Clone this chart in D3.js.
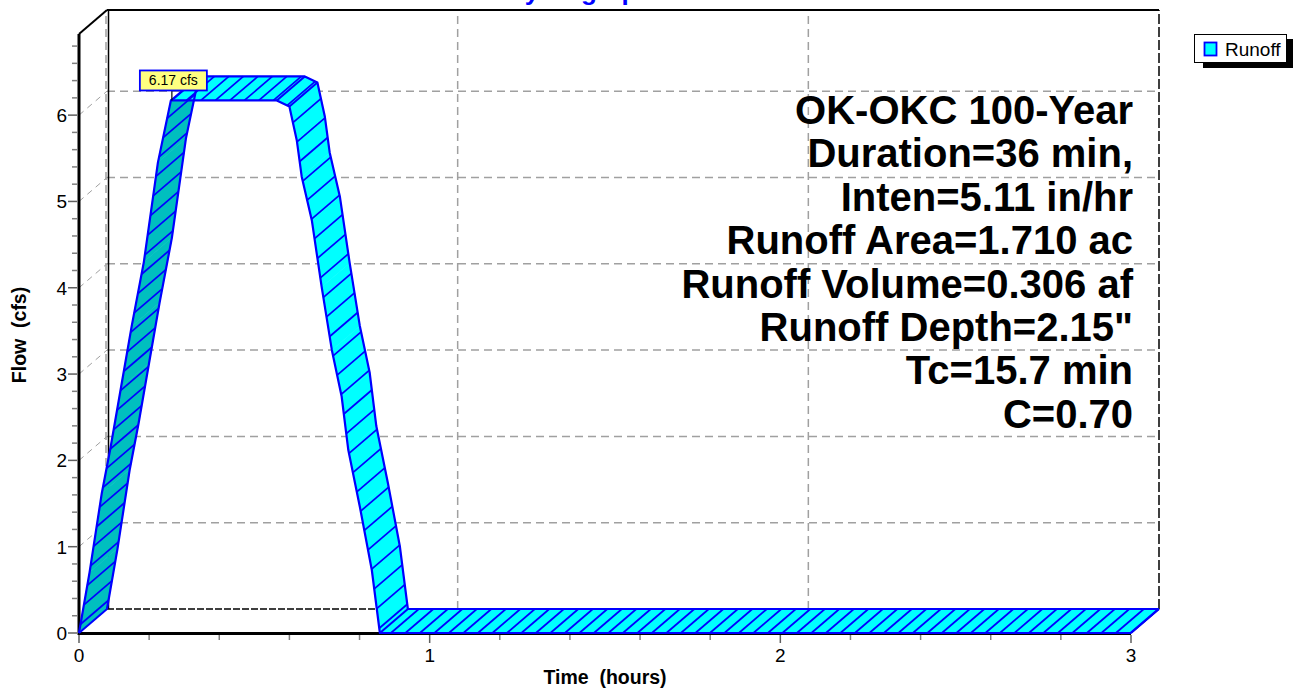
<!DOCTYPE html>
<html>
<head>
<meta charset="utf-8">
<script src="https://cdn.jsdelivr.net/npm/d3@7"></script>
<style>
  body { margin: 0; background: #ffffff; }
  svg { display: block; }
</style>
</head>
<body>
<svg id="chart" width="1294" height="689"></svg>
<script>
// Hydrograph series: time (hours) and flow (cfs)
const timeHours = [0, 0.03, 0.065, 0.09, 0.12, 0.15, 0.185, 0.225, 0.262, 0.564, 0.600, 0.621, 0.635, 0.664, 0.692, 0.721, 0.749, 0.768, 0.801, 0.835, 0.858, 3.0];
const flowCfs   = [0, 0.70, 1.62, 2.15, 2.85, 3.55, 4.30, 5.45, 6.17, 6.17, 6.10, 5.71, 5.29, 4.78, 4.01, 3.28, 2.74, 2.12, 1.46, 0.73, 0, 0];

const xTicks = [0, 1, 2, 3];
const yTicks = [0, 1, 2, 3, 4, 5, 6];
const peakFlow = 6.17;
const peakLabel = "6.17 cfs";
const seriesName = "Runoff";
const chartTitle = "Hydrograph";
const xTitle = "Time  (hours)";
const yTitle = "Flow  (cfs)";
const summaryLines = [
  "OK-OKC 100-Year",
  "Duration=36 min,",
  "Inten=5.11 in/hr",
  "Runoff Area=1.710 ac",
  "Runoff Volume=0.306 af",
  "Runoff Depth=2.15\"",
  "Tc=15.7 min",
  "C=0.70"
];

const FONT = "'Liberation Sans', Arial, sans-serif";
const BLUE = "#0000ff";
const CYAN = "#00ffff";
const TEAL = "#00bfbf";
const GRID = "#a0a0a0";

// 3D depth of the plot box
const dx = 28, dy = -24;
const xMax = 3, yMax = 6.94;

const x = d3.scaleLinear().domain([0, xMax]).range([79, 1131]);
const y = d3.scaleLinear().domain([0, yMax]).range([633, 34]);
const bx = v => x(v) + dx;
const by = v => y(v) + dy;

const svg = d3.select("#chart");

// ---- back wall grid ----
const grid = svg.append("g");
yTicks.filter(v => v > 0).forEach(v => {
  grid.append("line")
    .attr("x1", bx(0)).attr("x2", bx(xMax))
    .attr("y1", by(v)).attr("y2", by(v))
    .attr("stroke", GRID).attr("stroke-width", 1.5).attr("stroke-dasharray", "8,5");
  grid.append("line")
    .attr("x1", x(0)).attr("x2", bx(0))
    .attr("y1", y(v)).attr("y2", by(v))
    .attr("stroke", GRID).attr("stroke-width", 1).attr("stroke-dasharray", "6,5");
});
xTicks.filter(v => v > 0 && v < xMax).forEach(v => {
  grid.append("line")
    .attr("x1", bx(v)).attr("x2", bx(v))
    .attr("y1", by(0)).attr("y2", by(yMax))
    .attr("stroke", GRID).attr("stroke-width", 1.5).attr("stroke-dasharray", "8,5");
});
// left back edge (grey dashed + solid black)
grid.append("line")
  .attr("x1", bx(0) - 1).attr("x2", bx(0) - 1)
  .attr("y1", by(0)).attr("y2", by(yMax))
  .attr("stroke", GRID).attr("stroke-width", 1.5).attr("stroke-dasharray", "8,5");
grid.append("line")
  .attr("x1", bx(0) + 1.5).attr("x2", bx(0) + 1.5)
  .attr("y1", by(0)).attr("y2", by(yMax))
  .attr("stroke", "#000").attr("stroke-width", 1.5);
// top edge of back wall
grid.append("line")
  .attr("x1", bx(0)).attr("x2", bx(xMax))
  .attr("y1", by(yMax)).attr("y2", by(yMax))
  .attr("stroke", "#000").attr("stroke-width", 2);
// right edge of back wall
grid.append("line")
  .attr("x1", bx(xMax)).attr("x2", bx(xMax))
  .attr("y1", by(0)).attr("y2", by(yMax))
  .attr("stroke", "#000").attr("stroke-width", 1.5).attr("stroke-dasharray", "10,3");
// bottom edge of back wall
grid.append("line")
  .attr("x1", bx(0)).attr("x2", bx(xMax))
  .attr("y1", by(0)).attr("y2", by(0))
  .attr("stroke", "#000").attr("stroke-width", 1.5).attr("stroke-dasharray", "7,2");
// top edge of left wall
grid.append("line")
  .attr("x1", x(0)).attr("x2", bx(0))
  .attr("y1", y(yMax)).attr("y2", by(yMax))
  .attr("stroke", "#000").attr("stroke-width", 2);
// floor right edge
grid.append("line")
  .attr("x1", x(xMax)).attr("x2", bx(xMax))
  .attr("y1", y(0)).attr("y2", by(0))
  .attr("stroke", "#000").attr("stroke-width", 1.5);

// ---- summary text ----
const summary = svg.append("g");
summaryLines.forEach((s, i) => {
  summary.append("text")
    .attr("x", 1133).attr("y", 124 + i * 43.4)
    .attr("text-anchor", "end")
    .attr("font-family", FONT).attr("font-weight", "bold").attr("font-size", 40)
    .attr("fill", "#000")
    .text(s);
});

// ---- axes ----
const axes = svg.append("g");
axes.append("line")
  .attr("x1", x(0)).attr("x2", x(xMax)).attr("y1", y(0) + 0.5).attr("y2", y(0) + 0.5)
  .attr("stroke", "#000").attr("stroke-width", 3);
axes.append("line")
  .attr("x1", x(0)).attr("x2", x(0)).attr("y1", y(0) + 2).attr("y2", y(yMax))
  .attr("stroke", "#000").attr("stroke-width", 3);

const yMinor = d3.range(0, yMax, 0.2).filter(v => Math.abs(v - Math.round(v)) > 1e-6);
yMinor.forEach(v => {
  axes.append("line").attr("x1", x(0) - 7).attr("x2", x(0) - 2)
    .attr("y1", y(v)).attr("y2", y(v)).attr("stroke", "#808080").attr("stroke-width", 1.5);
});
yTicks.forEach(v => {
  axes.append("line").attr("x1", x(0) - 11).attr("x2", x(0) - 2)
    .attr("y1", y(v)).attr("y2", y(v)).attr("stroke", "#606060").attr("stroke-width", 1.5);
  axes.append("text").attr("x", x(0) - 12).attr("y", y(v) + 7)
    .attr("text-anchor", "end").attr("font-family", FONT).attr("font-size", 19)
    .text(v);
});
const xMinor = d3.range(0, xMax, 0.2).filter(v => Math.abs(v - Math.round(v)) > 1e-6);
xMinor.forEach(v => {
  axes.append("line").attr("x1", x(v)).attr("x2", x(v))
    .attr("y1", y(0) + 2).attr("y2", y(0) + 7).attr("stroke", "#808080").attr("stroke-width", 1.5);
});
xTicks.forEach(v => {
  axes.append("line").attr("x1", x(v)).attr("x2", x(v))
    .attr("y1", y(0) + 2).attr("y2", y(0) + 10).attr("stroke", "#606060").attr("stroke-width", 1.5);
  axes.append("text").attr("x", x(v)).attr("y", 662)
    .attr("text-anchor", "middle").attr("font-family", FONT).attr("font-size", 19)
    .text(v);
});

axes.append("text")
  .attr("x", 605).attr("y", 684)
  .attr("text-anchor", "middle").attr("font-family", FONT)
  .attr("font-weight", "bold").attr("font-size", 19.5)
  .style("white-space", "pre")
  .text(xTitle);
axes.append("text")
  .attr("transform", "translate(26,335) rotate(-90)")
  .attr("text-anchor", "middle").attr("font-family", FONT)
  .attr("font-weight", "bold").attr("font-size", 19.5)
  .style("white-space", "pre")
  .text(yTitle);

// ---- 3D ribbon ----
const front = timeHours.map((t, i) => [x(t), y(flowCfs[i])]);
const back = front.map(p => [p[0] + dx, p[1] + dy]);
const ribbon = svg.append("g");

for (let i = 0; i < front.length - 1; i++) {
  const a = front[i], b = front[i + 1];
  const ddx = b[0] - a[0], ddy = b[1] - a[1];
  const z = ddx * dy - ddy * dx;
  const quad = [a, b, back[i + 1], back[i]];
  ribbon.append("path")
    .attr("d", d3.line()(quad) + "Z")
    .attr("fill", z > 0 ? TEAL : CYAN)
    .attr("stroke", z > 0 ? TEAL : CYAN).attr("stroke-width", 0.6);
}

// hatch lines running front-to-back at even steps along the profile
const hx = 14.5, hy = 20;
let acc = 0.55;
const hatch = [];
for (let i = 0; i < front.length - 1; i++) {
  const a = front[i], b = front[i + 1];
  const ddx = b[0] - a[0], ddy = b[1] - a[1];
  const m = Math.hypot(ddx / hx, ddy / hy);
  let s = (1 - acc);
  while (s < m) {
    const f = s / m;
    hatch.push([a[0] + ddx * f, a[1] + ddy * f]);
    s += 1;
  }
  acc = (acc + m) % 1;
}
hatch.forEach(p => {
  ribbon.append("line")
    .attr("x1", p[0]).attr("y1", p[1])
    .attr("x2", p[0] + dx).attr("y2", p[1] + dy)
    .attr("stroke", BLUE).attr("stroke-width", 1.7);
});

// cross lines at the sharp corners of the profile
for (let i = 1; i < front.length - 1; i++) {
  const a1 = Math.atan2(front[i][1] - front[i - 1][1], front[i][0] - front[i - 1][0]);
  const a2 = Math.atan2(front[i + 1][1] - front[i][1], front[i + 1][0] - front[i][0]);
  let da = Math.abs(a2 - a1) * 180 / Math.PI;
  if (da > 180) da = 360 - da;
  if (da > 15) {
    ribbon.append("line")
      .attr("x1", front[i][0]).attr("y1", front[i][1])
      .attr("x2", back[i][0]).attr("y2", back[i][1])
      .attr("stroke", BLUE).attr("stroke-width", 2);
  }
}
// outline
const outline = d3.line();
ribbon.append("path").attr("d", outline(front))
  .attr("fill", "none").attr("stroke", BLUE).attr("stroke-width", 2.2).attr("stroke-linejoin", "round");
ribbon.append("path").attr("d", outline(back))
  .attr("fill", "none").attr("stroke", BLUE).attr("stroke-width", 2.2).attr("stroke-linejoin", "round");
[0, front.length - 1].forEach(i => {
  ribbon.append("line")
    .attr("x1", front[i][0]).attr("y1", front[i][1])
    .attr("x2", back[i][0]).attr("y2", back[i][1])
    .attr("stroke", BLUE).attr("stroke-width", 2);
});

// ---- peak label ----
const iPeak = flowCfs.indexOf(peakFlow);
const px = x(timeHours[iPeak]), py = y(peakFlow);
const lab = svg.append("g");
lab.append("line")
  .attr("x1", px + 1).attr("x2", px + 1)
  .attr("y1", py - 11).attr("y2", py)
  .attr("stroke", "#000").attr("stroke-width", 1.2);
lab.append("rect")
  .attr("x", px - 31).attr("y", py - 30).attr("width", 67).attr("height", 20)
  .attr("fill", "#ffff80").attr("stroke", BLUE).attr("stroke-width", 1.8);
lab.append("text")
  .attr("x", px + 2.5).attr("y", py - 15)
  .attr("text-anchor", "middle").attr("font-family", FONT).attr("font-size", 14)
  .text(peakLabel);

// ---- legend ----
const leg = svg.append("g");
leg.append("rect").attr("x", 1203).attr("y", 39).attr("width", 90).attr("height", 29).attr("fill", "#000");
leg.append("rect").attr("x", 1194.5).attr("y", 34.5).attr("width", 92).attr("height", 28)
  .attr("fill", "#fff").attr("stroke", "#000").attr("stroke-width", 1);
leg.append("rect").attr("x", 1204.5).attr("y", 42.5).attr("width", 12).attr("height", 13)
  .attr("fill", CYAN).attr("stroke", BLUE).attr("stroke-width", 1.8);
leg.append("text").attr("x", 1225).attr("y", 56)
  .attr("font-family", FONT).attr("font-size", 19).text(seriesName);

// ---- title (sits mostly above the top edge) ----
svg.append("text")
  .attr("x", 506).attr("y", 0)
  .attr("font-family", FONT).attr("font-weight", "bold").attr("font-size", 26)
  .attr("fill", BLUE)
  .text(chartTitle);
</script>
</body>
</html>
